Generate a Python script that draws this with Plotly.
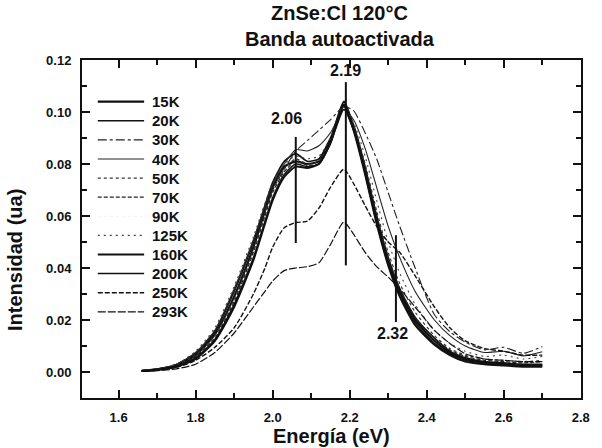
import plotly.graph_objects as go

# Photoluminescence of ZnSe:Cl (120 °C) — self-activated band vs temperature
energy = [1.66, 1.70, 1.75, 1.80, 1.85, 1.90, 1.95, 1.98, 2.00, 2.03, 2.06, 2.09, 2.12, 2.15,
          2.185, 2.21, 2.24, 2.27, 2.30, 2.33, 2.37, 2.42, 2.46, 2.50, 2.55, 2.60, 2.65, 2.70]

temps = ["15K", "20K", "30K", "40K", "50K", "70K", "90K", "125K", "160K", "200K", "250K", "293K"]

i_15K = [0.0005, 0.001, 0.0025, 0.0065, 0.0145, 0.029, 0.048, 0.062, 0.071, 0.079, 0.081, 0.080, 0.081, 0.089,
         0.104, 0.094, 0.077, 0.058, 0.042, 0.031, 0.020, 0.012, 0.0075, 0.005, 0.0035, 0.003, 0.0025, 0.0025]
i_20K = [0.0005, 0.001, 0.0028, 0.007, 0.0155, 0.031, 0.050, 0.064, 0.073, 0.081, 0.084, 0.081, 0.082, 0.090,
         0.103, 0.095, 0.079, 0.060, 0.044, 0.032, 0.021, 0.013, 0.008, 0.0055, 0.004, 0.0035, 0.003, 0.003]
i_30K = [0.0005, 0.0012, 0.003, 0.0075, 0.016, 0.031, 0.050, 0.062, 0.070, 0.078, 0.085, 0.089, 0.093, 0.097,
         0.102, 0.1005, 0.092, 0.082, 0.069, 0.056, 0.040, 0.022, 0.0155, 0.0115, 0.0085, 0.0095, 0.0072, 0.0098]
i_40K = [0.0005, 0.0012, 0.003, 0.0075, 0.016, 0.032, 0.051, 0.064, 0.072, 0.080, 0.0855, 0.085, 0.087, 0.092,
         0.101, 0.097, 0.086, 0.071, 0.056, 0.044, 0.031, 0.020, 0.014, 0.010, 0.0075, 0.008, 0.0062, 0.0078]
i_50K = [0.0005, 0.001, 0.0025, 0.0065, 0.014, 0.028, 0.047, 0.061, 0.070, 0.078, 0.082, 0.080, 0.081, 0.089,
         0.1025, 0.095, 0.080, 0.062, 0.046, 0.034, 0.023, 0.014, 0.009, 0.0065, 0.005, 0.0045, 0.004, 0.0045]
i_70K = [0.0005, 0.001, 0.0022, 0.006, 0.013, 0.027, 0.046, 0.060, 0.069, 0.077, 0.081, 0.0795, 0.080, 0.088,
         0.102, 0.094, 0.078, 0.060, 0.044, 0.032, 0.021, 0.013, 0.0085, 0.006, 0.0045, 0.004, 0.0035, 0.004]
i_90K = [0.0005, 0.001, 0.0022, 0.006, 0.0135, 0.0275, 0.046, 0.060, 0.069, 0.077, 0.0815, 0.080, 0.0805, 0.089,
         0.1015, 0.094, 0.078, 0.060, 0.044, 0.032, 0.021, 0.013, 0.0085, 0.006, 0.0045, 0.004, 0.0035, 0.004]
i_125K = [0.0005, 0.0012, 0.003, 0.008, 0.017, 0.033, 0.052, 0.065, 0.073, 0.080, 0.083, 0.082, 0.083, 0.090,
          0.101, 0.096, 0.083, 0.066, 0.050, 0.038, 0.026, 0.016, 0.011, 0.008, 0.006, 0.0065, 0.005, 0.006]
i_160K = [0.0004, 0.0008, 0.002, 0.005, 0.012, 0.025, 0.043, 0.057, 0.066, 0.075, 0.079, 0.0785, 0.080, 0.088,
          0.1025, 0.093, 0.076, 0.057, 0.041, 0.029, 0.018, 0.0105, 0.0065, 0.004, 0.003, 0.0025, 0.002, 0.002]
i_200K = [0.0004, 0.0009, 0.0022, 0.0055, 0.0125, 0.026, 0.044, 0.058, 0.067, 0.076, 0.080, 0.079, 0.080, 0.088,
          0.101, 0.093, 0.077, 0.058, 0.042, 0.030, 0.019, 0.011, 0.007, 0.0045, 0.0035, 0.003, 0.0025, 0.0025]
i_250K = [0.0003, 0.0007, 0.0018, 0.0045, 0.0095, 0.017, 0.030, 0.040, 0.048, 0.0555, 0.0575, 0.058, 0.063, 0.071,
          0.078, 0.0725, 0.064, 0.056, 0.050, 0.046, 0.037, 0.025, 0.017, 0.012, 0.009, 0.008, 0.0065, 0.0065]
i_293K = [0.0002, 0.0005, 0.0012, 0.003, 0.0075, 0.015, 0.025, 0.031, 0.035, 0.039, 0.040, 0.0405, 0.042, 0.049,
          0.0577, 0.053, 0.046, 0.0405, 0.0365, 0.032, 0.025, 0.016, 0.011, 0.007, 0.005, 0.0045, 0.004, 0.004]

spectra = [i_15K, i_20K, i_30K, i_40K, i_50K, i_70K, i_90K, i_125K, i_160K, i_200K, i_250K, i_293K]

# Marked peak energies and the vertical extent of each marker
peak_e = [2.06, 2.19, 2.32]
peak_lo = [0.0496, 0.041, 0.0192]
peak_hi = [0.0904, 0.1115, 0.0526]

x_ticks = [1.6, 1.8, 2.0, 2.2, 2.4, 2.6, 2.8]
y_ticks = [0.00, 0.02, 0.04, 0.06, 0.08, 0.10, 0.12]

# line styles: (width, dash, color)
styles = [
    (2.2, "solid", "#111"),
    (1.6, "solid", "#111"),
    (1.1, "dashdot", "#222"),
    (1.1, "solid", "#222"),
    (1.2, "dot", "#333"),
    (1.2, "4px,2px", "#222"),
    (1.0, "dot", "rgba(0,0,0,0.06)"),
    (1.1, "2px,4px", "#444"),
    (2.0, "solid", "#111"),
    (1.5, "solid", "#111"),
    (1.4, "5px,2px", "#111"),
    (1.2, "8px,2px", "#111"),
]

FONT = "Liberation Sans, Arial, Helvetica, sans-serif"
W, H = 602, 448
L, R, T, B = 82, 14, 60, 50
pw, ph = W - L - R, H - T - B


def px_x(px):
    return (px - L) / pw


def px_y(py):
    return (H - B - py) / ph


fig = go.Figure()
for name, ys, (lw, dash, col) in zip(temps, spectra, styles):
    fig.add_trace(go.Scatter(x=energy, y=ys, name=name, mode="lines",
                             line=dict(color=col, width=lw, dash=dash, shape="spline", smoothing=0.6),
                             showlegend=False))

shapes = []
annotations = []

# legend drawn in the upper-left corner of the frame
for i, (name, (lw, dash, col)) in enumerate(zip(temps, styles)):
    yy = px_y(101.7 + i * 19.1)
    shapes.append(dict(type="line", xref="paper", yref="paper", x0=px_x(98), x1=px_x(145), y0=yy, y1=yy,
                       line=dict(color=col, width=lw, dash=dash)))
    annotations.append(dict(xref="paper", yref="paper", x=px_x(151), y=yy, text=name, showarrow=False,
                            xanchor="left", yanchor="middle",
                            font=dict(family=FONT, size=15, color="#111", weight="bold")))

# peak markers
for e, lo, hi in zip(peak_e, peak_lo, peak_hi):
    shapes.append(dict(type="line", xref="x", yref="y", x0=e, x1=e, y0=lo, y1=hi,
                       line=dict(color="#111", width=2)))

label_pos = [(2.036, 0.0975), (2.188, 0.116), (2.312, 0.0148)]
for e, (lx, ly) in zip(peak_e, label_pos):
    annotations.append(dict(xref="x", yref="y", x=lx, y=ly, text=f"{e:.2f}", showarrow=False,
                            xanchor="center", yanchor="middle",
                            font=dict(family=FONT, size=16, color="#111", weight="bold")))

# titles
annotations.append(dict(xref="paper", yref="paper", x=px_x(344), y=px_y(25.5),
                        text="ZnSe:Cl 120°C<br>Banda autoactivada", showarrow=False,
                        xanchor="center", yanchor="middle",
                        font=dict(family=FONT, size=20, color="#111", weight="bold")))
annotations.append(dict(xref="paper", yref="paper", x=px_x(335), y=px_y(436),
                        text="Energía (eV)", showarrow=False, xanchor="center", yanchor="middle",
                        font=dict(family=FONT, size=20, color="#111", weight="bold")))
annotations.append(dict(xref="paper", yref="paper", x=px_x(14), y=px_y(260),
                        text="Intensidad (ua)", showarrow=False, xanchor="center", yanchor="middle",
                        textangle=-90,
                        font=dict(family=FONT, size=20, color="#111", weight="bold")))

axis_common = dict(showline=True, linewidth=2, linecolor="#111", mirror="ticks",
                   ticks="inside", ticklen=8, tickwidth=2, tickcolor="#111",
                   showgrid=False, zeroline=False,
                   tickfont=dict(family=FONT, size=13, color="#111", weight="bold"))

fig.update_layout(
    width=W, height=H,
    margin=dict(l=L, r=R, t=T, b=B),
    paper_bgcolor="white", plot_bgcolor="white",
    shapes=shapes, annotations=annotations,
    xaxis=dict(range=[1.505, 2.8005], tickvals=x_ticks, ticktext=[f"{v:.1f}" for v in x_ticks],
               minor=dict(ticks="inside", ticklen=5, tickwidth=1.5, tickcolor="#111", dtick=0.1, tick0=1.5),
               ticklabelstandoff=6, **axis_common),
    yaxis=dict(range=[-0.01, 0.12], tickvals=y_ticks, ticktext=[f"{v:.2f}" for v in y_ticks],
               minor=dict(ticks="inside", ticklen=5, tickwidth=1.5, tickcolor="#111", dtick=0.01, tick0=0),
               ticklabelstandoff=6, **axis_common),
)

fig.write_html("out.html")
